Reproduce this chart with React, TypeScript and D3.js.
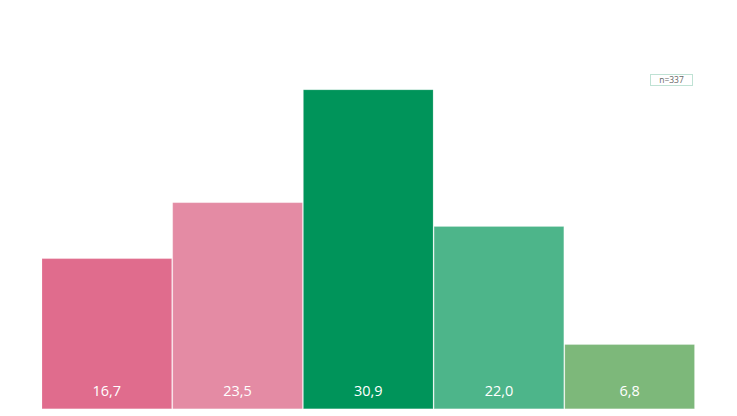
import React from "react";
import * as d3 from "d3";

const categories = ["A", "B", "C", "D", "E"];
const labelValues = [16.7, 23.5, 30.9, 22.0, 6.8];
const barHeights = [14.6, 20.0, 30.9, 17.7, 6.3];
const colors = ["#e06c8d", "#e48ba4", "#00945a", "#4db58a", "#7db87a"];
const sampleNote = "n=337";

const W = 737;
const H = 416;

export default function App() {
  const x = d3.scaleBand<string>().domain(categories).range([41.5, 695]).padding(0);
  const y = d3.scaleLinear().domain([0, 30.9]).range([409.3, 89.3]);
  const fmt = (v: number) => d3.format(".1f")(v).replace(".", ",");
  return (
    <svg width={W} height={H} style={{ position: "absolute", left: 0, top: 0, display: "block" }}>
      <rect x={0} y={0} width={W} height={H} fill="#fff" />
      {categories.map((c, i) => (
        <g key={c}>
          <rect
            x={x(c)! + 0.5}
            y={y(barHeights[i]) + 0.5}
            width={x.bandwidth() - 1}
            height={y(0) - y(barHeights[i]) - 1}
            fill={colors[i]}
            stroke="rgba(255,255,255,0.18)"
            strokeWidth={1}
          />
          <text
            x={x(c)! + x.bandwidth() / 2}
            y={396}
            textAnchor="middle"
            fill="#fff"
            fontFamily="'Open Sans', sans-serif"
            fontSize={14.5}
          >
            {fmt(labelValues[i])}
          </text>
        </g>
      ))}
      <rect x={650.5} y={74.5} width={42} height={11} fill="#fff" stroke="#bfe2d4" strokeWidth={1} />
      <text x={671.5} y={83} textAnchor="middle" fill="#666" fontFamily="'Open Sans', sans-serif" fontSize={8.5}>
        {sampleNote}
      </text>
    </svg>
  );
}
